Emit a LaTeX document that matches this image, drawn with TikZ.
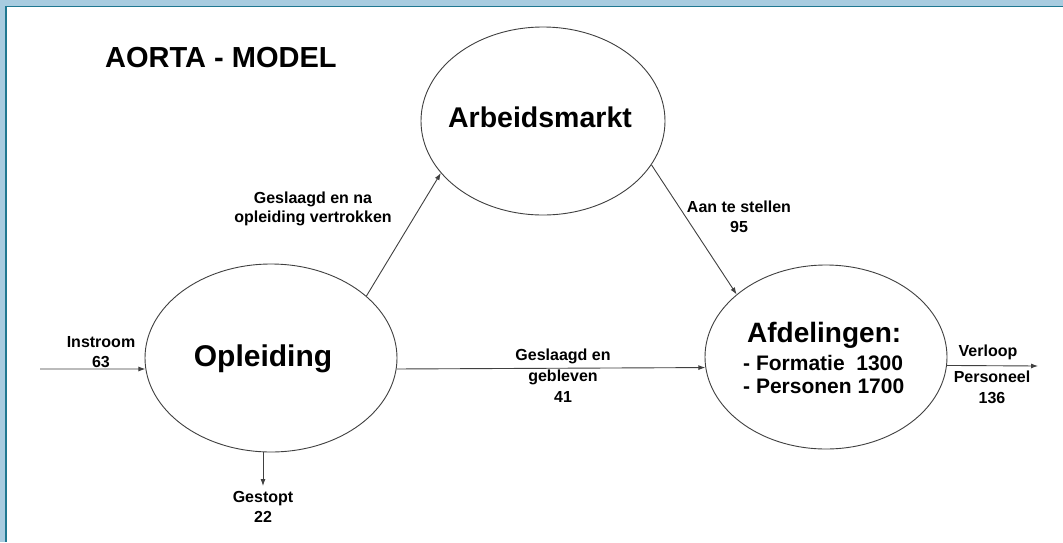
\documentclass[tikz,border=0pt]{standalone}
\usepackage{fontspec}
\setmainfont{Liberation Sans}
\usetikzlibrary{shapes.geometric,arrows.meta}
\definecolor{frameblue}{HTML}{A8CCE0}
\definecolor{frameteal}{HTML}{1F7891}
\begin{document}
\begin{tikzpicture}[x=1pt,y=-1pt,
  bubble/.style={ellipse,draw=black!75,line width=0.9pt,inner sep=0pt},
  flow/.style={draw=black!75,line width=0.9pt,-{Latex[length=7pt,width=5pt]}},
  lbl/.style={font=\bfseries\fontsize{16}{19.5}\selectfont,align=center,inner sep=0pt},
  big/.style={font=\bfseries\fontsize{30}{36}\selectfont,inner sep=0pt},
]
\fill[frameblue] (0,0) rectangle (1063,542);
\fill[frameteal] (4.5,5.5) rectangle (1063,542);
\fill[white] (6.5,7) rectangle (1063,542);
\useasboundingbox (0,0) rectangle (1063,542);

% ellipses
\node[bubble,minimum width=244pt,minimum height=188pt] (ar) at (543,121) {};
\node[bubble,minimum width=252pt,minimum height=188pt] (op) at (271,358) {};
\node[bubble,minimum width=242pt,minimum height=184pt] (afd) at (826,357) {};

% texts
\node[font=\bfseries\fontsize{29}{34}\selectfont,anchor=base west,inner sep=0pt] (title) at (105,67) {AORTA - MODEL};
\node[big] (opt) at (263,359) {Opleiding};
\node[font=\bfseries\fontsize{28.5}{34}\selectfont,anchor=base,inner sep=0pt] (art) at (540,127) {Arbeidsmarkt};
\node[font=\bfseries\fontsize{28}{34}\selectfont,anchor=base west,inner sep=0pt] (afdt) at (747,342) {Afdelingen:};
\node[font=\bfseries\fontsize{21}{25}\selectfont,anchor=base west,inner sep=0pt] (f1) at (743,370) {- Formatie\ \ 1300};
\node[font=\bfseries\fontsize{21}{25}\selectfont,anchor=base west,inner sep=0pt] (f2) at (743,393) {- Personen 1700};

% free ends
\coordinate (inStart) at (40,369);
\coordinate (gsEnd) at (263,486);
\coordinate (vlEnd) at (1038,366);

% connectors
\draw[flow] (inStart) -- (op.185);
\draw[flow] (op.33.8) -- (ar.207.8);
\draw[flow] (ar.-22.9) -- (afd.145);
\draw[flow] (op.-5) -- (afd.185.7);
\draw[flow] (gsEnd |- op.south) -- (gsEnd);
\draw[flow] (afd.-4.3) -- (vlEnd);

% labels
\node[lbl] (l1) at (101,352) {Instroom\\63};
\node[lbl] (l2) at (313,209) {Geslaagd en na\\opleiding vertrokken};
\node[lbl] (l3) at (739,217) {Aan te stellen\\95};
\node[lbl,font=\bfseries\fontsize{16}{21}\selectfont] (l4) at (563,376) {Geslaagd en\\gebleven\\41};
\node[lbl] (l5) at (263,507) {Gestopt\\22};
\node[lbl] (l6) at (988,352) {Verloop};
\node[lbl,font=\bfseries\fontsize{16}{21}\selectfont] (l7) at (992,387) {Personeel\\136};
\end{tikzpicture}
\end{document}
